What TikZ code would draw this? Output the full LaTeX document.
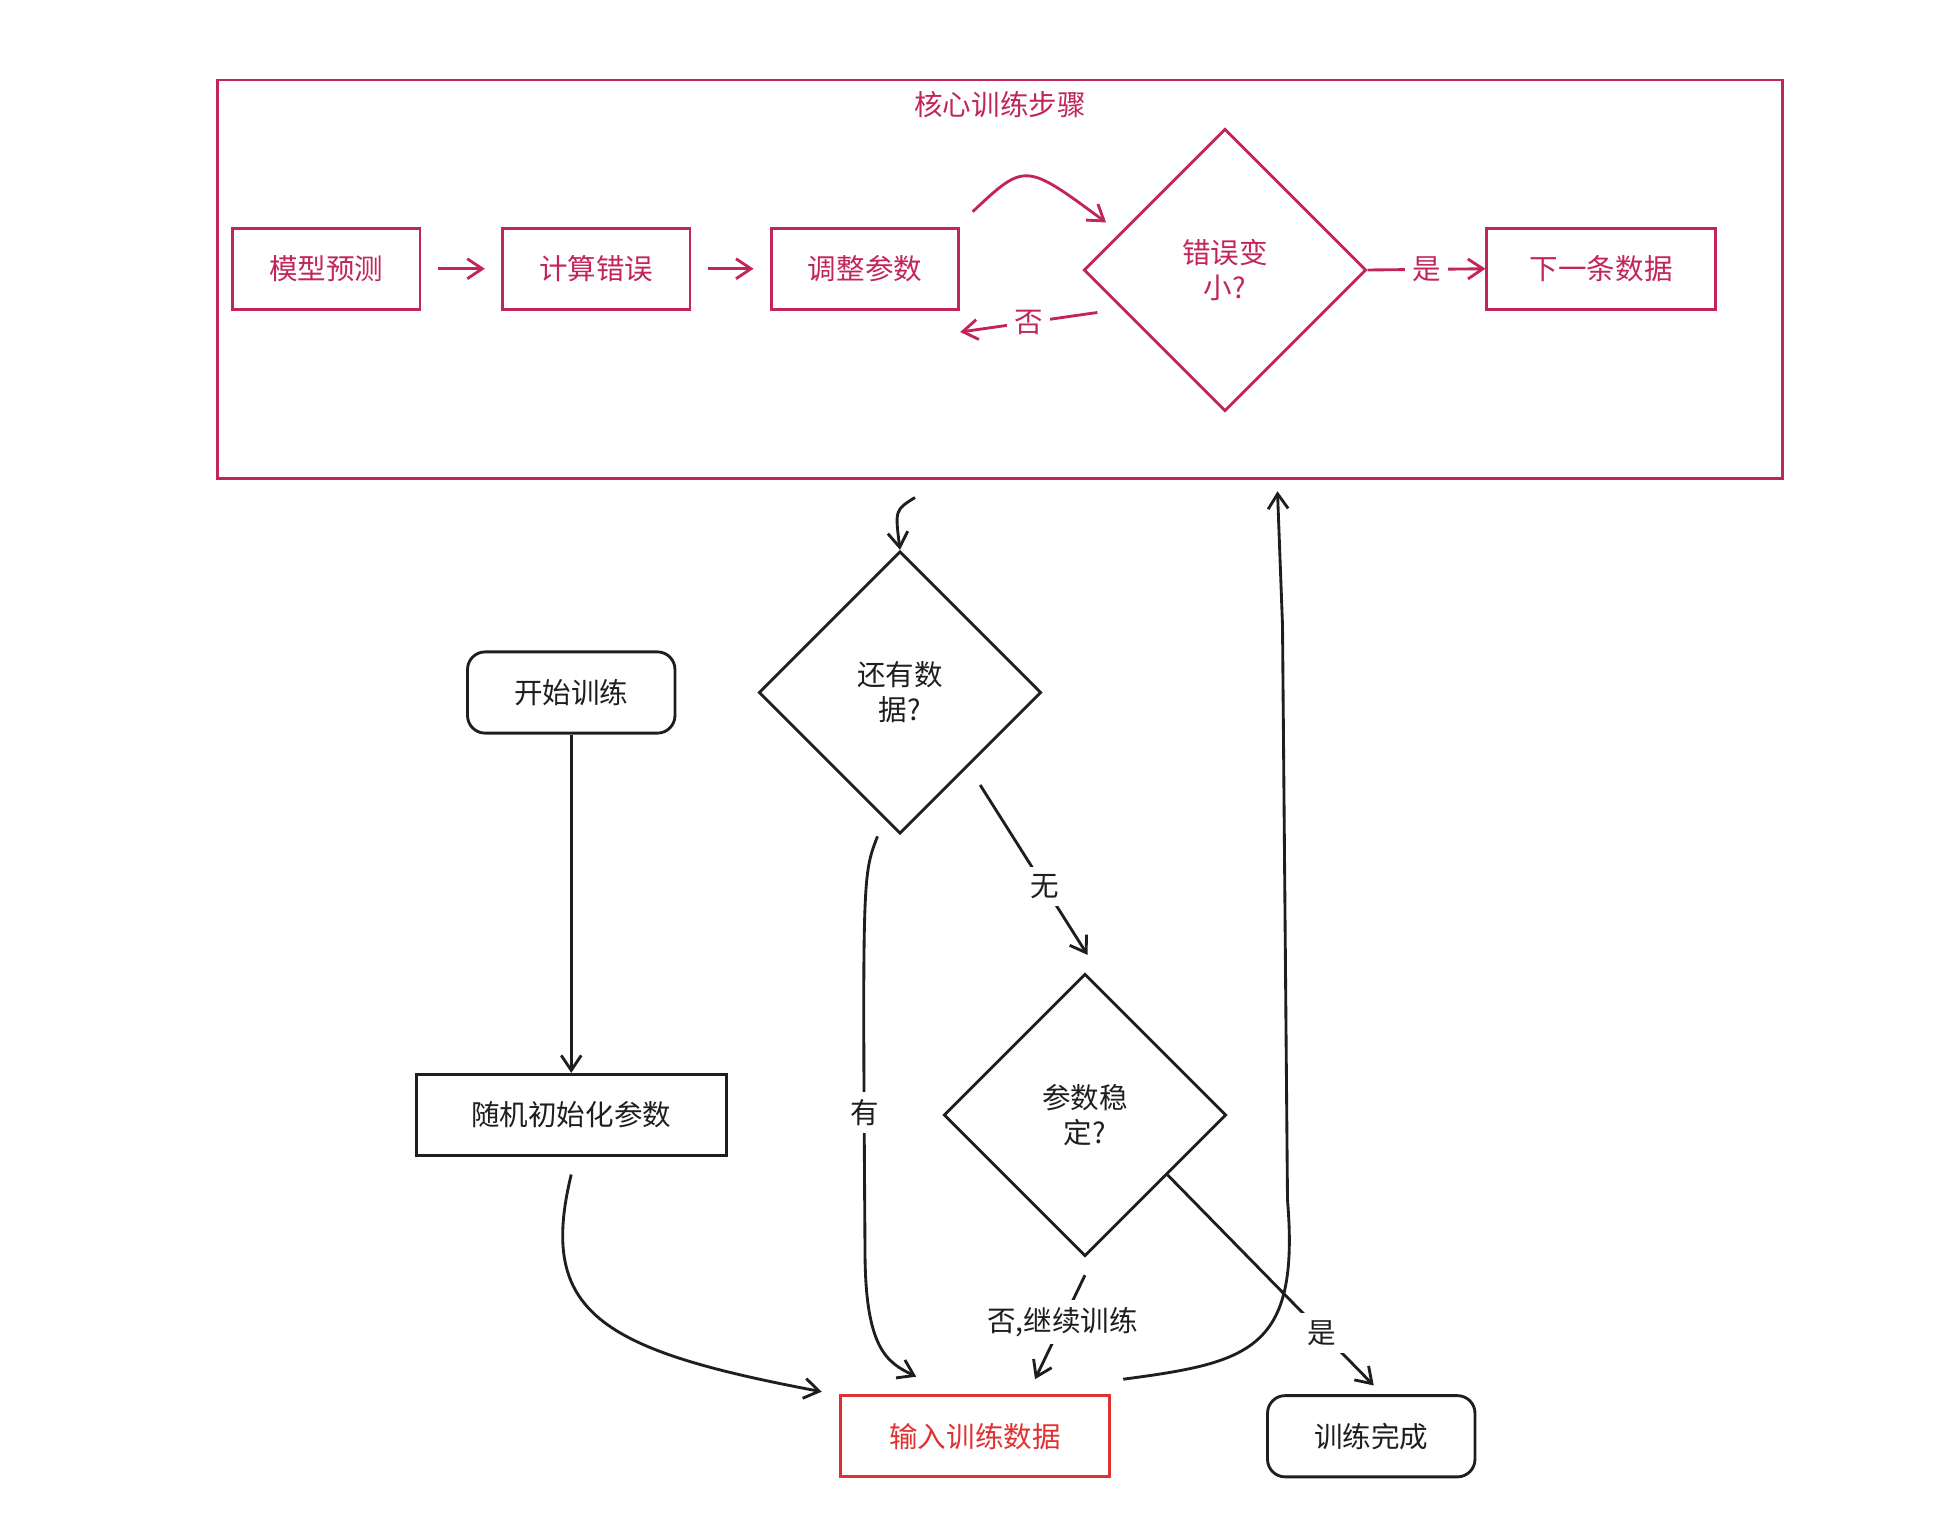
\documentclass[tikz,border=0pt]{standalone}
\usepackage{fontspec}
\setmainfont{Noto Sans CJK SC}
\usetikzlibrary{shapes.geometric, arrows.meta, positioning, calc}
\definecolor{crim}{HTML}{C2255C}
\definecolor{ink}{HTML}{1E1E1E}
\definecolor{hot}{HTML}{E03131}

\begin{document}
\begin{tikzpicture}[
    x=0.02cm, y=-0.02cm,
    box/.style={rectangle, draw, line width=1.3pt, minimum width=3cm, minimum height=1.3cm, align=center, font=\fontsize{13}{16}\selectfont},
    dia/.style={diamond, draw, line width=1.3pt, minimum width=4.52cm, minimum height=4.52cm, inner sep=0pt, align=center, font=\fontsize{13}{16}\selectfont},
    arrow/.style={-{Straight Barb[length=2.4mm,width=3.2mm]}, line width=1.3pt},
    lbl/.style={fill=white, font=\fontsize{13}{16}\selectfont},
]
\useasboundingbox (0,0) rectangle (1560,1220);

% Core steps frame
\draw[crim, line width=1.3pt] (174,64) rectangle (1426,383);
\node[text=crim, font=\fontsize{13}{16}\selectfont] (title) at (800,84) {核心训练步骤};

\node[box, crim] (predict) at (261,215) {模型预测};
\node[box, crim] (error) at (477,215) {计算错误};
\node[box, crim] (adjust) at (692,215) {调整参数};
\node[dia, crim] (smaller) at (980,216) {错误变\\小?};
\node[box, crim, minimum width=3.66cm] (next) at (1281,215) {下一条数据};

\draw[arrow, crim] ($(predict.east)+(13,0)$) -- ($(error.west)+(-13,0)$);
\draw[arrow, crim] ($(error.east)+(13,0)$) -- ($(adjust.west)+(-13,0)$);
\draw[arrow, crim] ($(adjust.north east)+(10,-12)$) .. controls (820,130) .. ($(smaller.west)+(19,-38)$);
\draw[arrow, crim] ($(smaller.west)+(12,34)$) -- node[lbl, text=crim] {否} ($(adjust.south east)+(0,17)$);
\draw[arrow, crim] (smaller.east) -- node[lbl, text=crim] {是} (next.west);

% Lower flow
\node[box, ink, rounded corners=8pt, minimum width=3.32cm] (start) at (457,554) {开始训练};
\node[box, ink, minimum width=4.96cm] (init) at (457,892) {随机初始化参数};
\node[dia, ink] (more) at (720,554) {还有数\\据?};
\node[dia, ink] (stable) at (868,892) {参数稳\\定?};
\node[box, hot, minimum width=4.3cm] (input) at (780,1149) {输入训练数据};
\node[box, ink, rounded corners=8pt, minimum width=3.32cm] (done) at (1097,1149) {训练完成};
\coordinate (top) at (1022,393);
\coordinate (frame) at (732,398);

\draw[arrow, ink] (start) -- (init);
\draw[arrow, ink] ($(init.south)+(0,14)$) .. controls (430,1050) and (480,1080) .. ($(input.north west)+(-14,-2)$);
\draw[arrow, ink] ($(more.south)+(-18,1)$) .. controls (690,700) .. (692,1000) .. controls (692,1080) and (710,1090) .. ($(input.north)+(-47,-14)$);
\node[lbl, text=ink] at (692,890) {有};
\draw[arrow, ink] ($(more.east)+(-50,74)$) -- node[lbl, text=ink, pos=0.6] {无} ($(stable.north)+(2,-14)$);
\draw[arrow, ink] ($(stable.south)+(0,14)$) -- node[lbl, text=ink, pos=0.45] {否,继续训练} ($(input.north)+(48,-12)$);
\draw[arrow, ink] ($(stable.east)+(-48,48)$) -- node[lbl, text=ink, pos=0.75] {是} ($(done.north)+(2,-7)$);
\draw[arrow, ink] ($(input.north east)+(10,-12)$) .. controls (1000,1090) and (1040,1080) .. (1030,960) -- (1026,500) -- (top);
\draw[arrow, ink] (frame) .. controls (716,408) .. (more.north);
\end{tikzpicture}
\end{document}
